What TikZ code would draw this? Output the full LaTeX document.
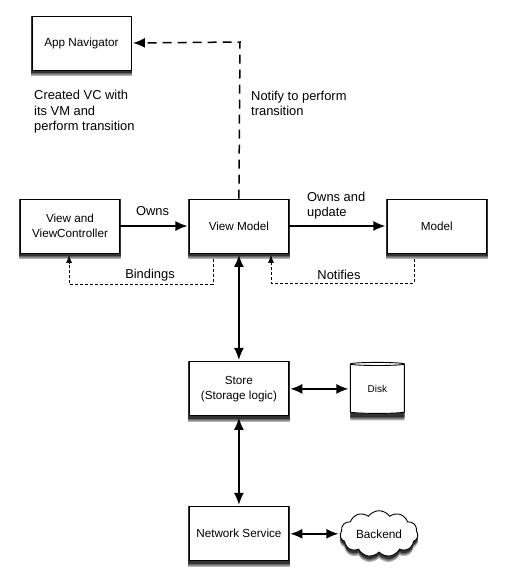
\documentclass[tikz,border=0pt]{standalone}
\usepackage{fontspec}
\setmainfont{Liberation Sans}
\usetikzlibrary{shapes.geometric, shapes.symbols, arrows.meta, positioning, calc, backgrounds}

\begin{document}
\begin{tikzpicture}[
    x=1pt, y=1pt,
    block/.style={rectangle, draw, fill=white, line width=0.9pt, minimum width=99pt, minimum height=54pt, align=center, font=\fontsize{11.7}{14.5}\selectfont, inner sep=1pt},
    diskshape/.style={cylinder, shape border rotate=90, aspect=0.16, minimum width=54pt, minimum height=51pt, inner sep=0pt},
    cloudshape/.style={cloud, cloud puffs=11, cloud puff arc=110, aspect=1.7, minimum width=78pt, minimum height=46pt, inner sep=0pt},
    arrow/.style={-{Latex[length=12pt, width=10pt]}, line width=1.5pt, shorten >=1.5pt},
    biarrow/.style={{Latex[length=12pt, width=10pt]}-{Latex[length=12pt, width=10pt]}, line width=1.5pt, shorten >=1.5pt, shorten <=1.5pt},
    bigdash/.style={-{Latex[length=12pt, width=10pt]}, line width=1.5pt, dash pattern=on 9pt off 6pt, shorten >=1.5pt},
    smalldash/.style={-{Latex[length=8pt, width=6pt]}, line width=0.7pt, dash pattern=on 3pt off 2pt, shorten >=1.5pt},
    note/.style={font=\fontsize{12.9}{15.5}\selectfont, align=left, inner sep=0pt}
]
    \useasboundingbox (0,0) rectangle (507,-584);

    \node[block] (navigator) at (81.5,-43) {App Navigator};
    \node[block] (view) at (70,-226) {View and\\ViewController};
    \node[block, right=69pt of view] (viewmodel) {View Model};
    \node[block, right=98pt of viewmodel] (model) {Model};
    \node[block, below=108pt of viewmodel] (store) {Store\\(Storage logic)};
    \node[block, below=90pt of store] (network) {Network Service};
    \node[diskshape, draw, fill=white, line width=0.9pt, font=\fontsize{10}{12}\selectfont, right=61pt of store] (disk) {Disk};
    \node[cloudshape, draw, fill=white, line width=0.9pt, font=\fontsize{11.8}{14}\selectfont, right=51pt of network] (backend) {Backend};

    \begin{scope}[on background layer]
        \foreach \drop/\shade in {6/30, 5/45, 4/60, 3/80} {
            \foreach \n in {navigator, view, viewmodel, model, store, network} {
                \fill[black!\shade] ($(\n.south west)+(-1,-\drop)$) rectangle ($(\n.north east)+(1,0)$);
            }
            \node[diskshape, fill=black!\shade, yshift=-\drop pt] (diskshadow\shade) at (disk) {};
            \node[cloudshape, fill=black!\shade, yshift=-\drop pt] (backendshadow\shade) at (backend) {};
        }
    \end{scope}

    \coordinate (corner) at (240,-42);
    \coordinate (bindfrom) at ($(viewmodel.south west)+(24,-6)$);
    \coordinate (bindto) at ($(view.south west)+(49,0)$);
    \coordinate (notifyfrom) at ($(model.south west)+(27,-6)$);
    \coordinate (notifyto) at ($(viewmodel.south west)+(82,0)$);

    \draw[arrow] (view.east) -- (viewmodel.west);
    \draw[arrow] (viewmodel.east) -- (model.west);
    \draw[bigdash] (viewmodel.north) -- (corner) -- (navigator.east);
    \draw[smalldash] (bindfrom) -- +(0,-25) -| (bindto);
    \draw[smalldash] (notifyfrom) -- +(0,-24) -| (notifyto);
    \draw[biarrow] (viewmodel.south) -- (store.north);
    \draw[biarrow] (store.south) -- (network.north);
    \draw[biarrow] (store.east) -- (disk.west);
    \draw[biarrow] (network.east) -- (backend.west);

    \node[note, anchor=north west] (createdtext) at (34,-90) {Created VC with\\its VM and\\perform transition};
    \node[note, anchor=north west] (notifytext) at (251,-90.5) {Notify to perform\\transition};
    \node[note] (ownstext) at (152.5,-211) {Owns};
    \node[note] (bindingstext) at (150,-275) {Bindings};
    \node[note, anchor=north west] (updatetext) at (307,-191.5) {Owns and\\update};
    \node[note] (notifiestext) at (339,-275) {Notifies};
\end{tikzpicture}
\end{document}
